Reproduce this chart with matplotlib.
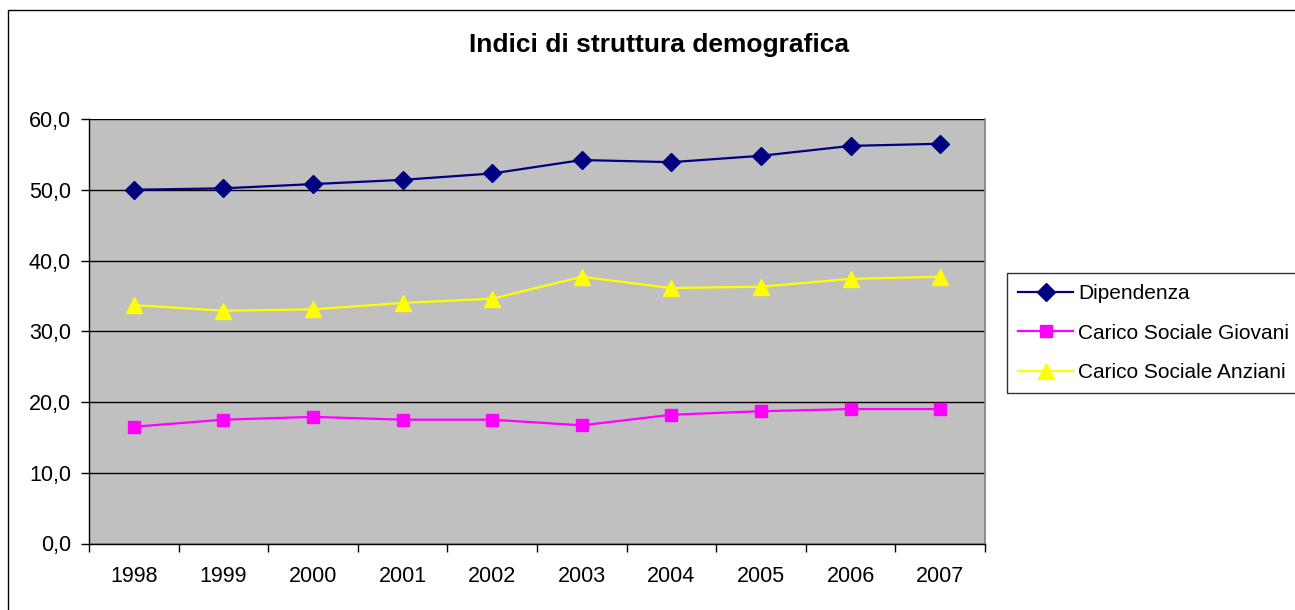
import numpy as np
import matplotlib
matplotlib.use("Agg")
import matplotlib.pyplot as plt
from matplotlib.patches import Rectangle

# dati
anni = ["1998", "1999", "2000", "2001", "2002", "2003", "2004", "2005", "2006", "2007"]
dipendenza = [50.0, 50.2, 50.8, 51.4, 52.3, 54.2, 53.9, 54.8, 56.2, 56.5]
giovani = [16.5, 17.5, 17.9, 17.5, 17.5, 16.7, 18.2, 18.7, 19.0, 19.0]
anziani = [33.7, 32.9, 33.1, 34.0, 34.6, 37.7, 36.1, 36.3, 37.4, 37.7]
y_ticks = [0, 10, 20, 30, 40, 50, 60]

plt.rcParams["font.family"] = ["Liberation Sans", "DejaVu Sans"]

fig = plt.figure(figsize=(12.95, 6.10), dpi=100)
ax = fig.add_axes([89 / 1295, 1 - 543.5 / 610, 896 / 1295, 424.5 / 610])
ax.set_facecolor("#C0C0C0")

x = np.arange(len(anni))
ax.plot(x, dipendenza, color="#000080", marker="D", markersize=9, lw=1.6,
        label="Dipendenza")
ax.plot(x, giovani, color="#FF00FF", marker="s", markersize=9, lw=1.6,
        label="Carico Sociale Giovani")
ax.plot(x, anziani, color="#FFFF00", marker="^", markersize=11, lw=1.6,
        label="Carico Sociale Anziani")

ax.set_xlim(-0.5, len(anni) - 0.5)
ax.set_ylim(0, 60)

# asse y
ax.set_yticks(y_ticks)
ax.set_yticklabels([f"{v:.1f}".replace(".", ",") for v in y_ticks], fontsize=15.5)
ax.tick_params(axis="y", direction="out", length=6, width=1, pad=7, color="black")
ax.yaxis.grid(True, color="black", lw=1)
ax.set_axisbelow(True)

# asse x: tacche tra le categorie, etichette al centro
ax.set_xticks(np.arange(-0.5, len(anni), 1.0))
ax.set_xticklabels([])
ax.tick_params(axis="x", which="major", direction="out", length=6, width=1, color="black")
ax.set_xticks(x, minor=True)
ax.set_xticklabels(anni, minor=True, fontsize=15.5)
ax.tick_params(axis="x", which="minor", length=0, pad=16)

for side in ["left", "bottom"]:
    ax.spines[side].set_color("black")
    ax.spines[side].set_linewidth(1)
ax.spines["top"].set_visible(False)
ax.spines["right"].set_color("#808080")
ax.spines["right"].set_linewidth(1.2)

fig.text(659 / 1295, 1 - 45 / 610, "Indici di struttura demografica",
         ha="center", va="center", fontsize=19, fontweight="bold")

leg = fig.legend(loc="upper left", bbox_to_anchor=(1007 / 1295, 1 - 273 / 610),
                 fontsize=15, frameon=True, fancybox=False, edgecolor="black",
                 handlelength=2.6, handletextpad=0.25, labelspacing=0.97,
                 borderpad=0.55, borderaxespad=0)
leg.get_frame().set_linewidth(1)

# cornice esterna del grafico
fig.patches.append(Rectangle((7.5 / 1295, -0.1), 1.2, 1.1 - 10 / 610,
                             transform=fig.transFigure, fill=False,
                             edgecolor="black", lw=1))

fig.savefig("out.png", dpi=100)
